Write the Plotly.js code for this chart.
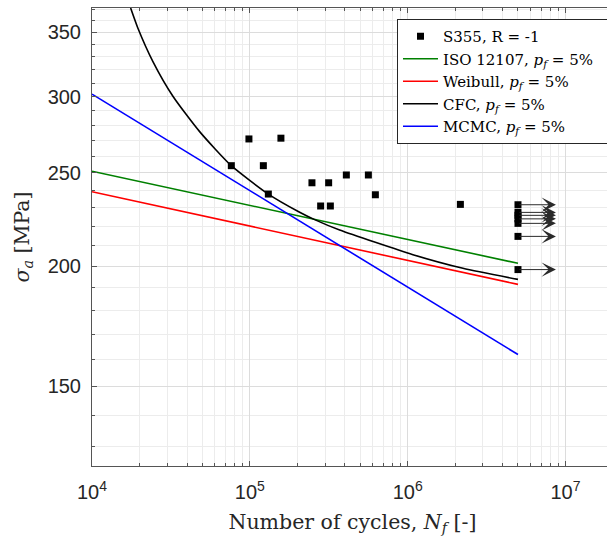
<!DOCTYPE html>
<html><head><meta charset="utf-8">
<script src="https://cdn.plot.ly/plotly-3.0.1.min.js"></script>
<style>html,body{margin:0;padding:0;overflow:hidden;background:#fff}#chart{width:616px;height:544px}</style>
</head><body><div id="chart"></div>
<script>
// Failure data (S355, R = -1)
const failN = [76350, 98700, 121800, 131000, 157400, 247500, 281000, 315800, 323700, 408800, 563700, 624200, 2158000];
const failS = [254.4, 271.2, 254.4, 237.7, 271.7, 244.2, 231.0, 244.2, 231.0, 248.8, 248.8, 237.3, 231.9];
// Run-outs
const runoutN = [5e6, 5e6, 5e6, 5e6, 5e6, 5e6, 5e6];
const runoutS = [231.7, 227.5, 225.9, 224.0, 221.6, 214.8, 198.4];
const runoutArrowEndN = 8.7e6;
// Design curves (p_f = 5%)
const isoN = [1e4, 5e6];
const isoS = [251, 201.4];
const weibullN = [1e4, 5e6];
const weibullS = [239, 191.5];
const mcmcN = [1e4, 5e6];
const mcmcS = [301.9, 161.9];
const cfcN = [17570, 19540, 24320, 32560, 48080, 76350, 131000, 206800, 257400, 370700, 1080000, 2240000, 5000000];
const cfcS = [371, 353.5, 326.4, 300.4, 276, 254.4, 237.7, 227.6, 223.6, 218.1, 205.6, 199.0, 193.8];
// Tick labels
const yMajorTicks = [150, 200, 250, 300, 350];
const yTickText = ['150', '200', '250', '300', '350'];
const yMinorTicks = [130, 140, 160, 170, 180, 190, 210, 220, 230, 240, 260, 270, 280, 290, 310, 320, 330, 340, 360, 370];
const xMajorTicks = [1e4, 1e5, 1e6, 1e7];
const xTickText = ['10<sup>4</sup>', '10<sup>5</sup>', '10<sup>6</sup>', '10<sup>7</sup>'];

const serif = '"DejaVu Serif", "Liberation Serif", serif';
const sans = '"Liberation Sans", Arial, sans-serif';

const xMinor = [];
[4, 5, 6, 7].forEach(d => { for (let k = 2; k <= 9; k++) xMinor.push(k * Math.pow(10, d)); });

const legendSuffix = ', <i>p</i><sub><i>f</i></sub> = 5%';
const traces = [
  {x: failN.concat(runoutN), y: failS.concat(runoutS), mode: 'markers', type: 'scatter',
   name: 'S355, R = -1', marker: {symbol: 'square', size: 7, color: '#000'}},
  {x: isoN, y: isoS, mode: 'lines', name: 'ISO 12107' + legendSuffix + '&nbsp;&nbsp;&nbsp;', line: {color: '#008000', width: 1.6}},
  {x: weibullN, y: weibullS, mode: 'lines', name: 'Weibull' + legendSuffix, line: {color: '#ff0000', width: 1.6}},
  {x: cfcN, y: cfcS, mode: 'lines', name: 'CFC' + legendSuffix, line: {color: '#000', width: 1.6, shape: 'spline', smoothing: 0.6}},
  {x: mcmcN, y: mcmcS, mode: 'lines', name: 'MCMC' + legendSuffix, line: {color: '#0000ff', width: 1.6}}
];

const annotations = runoutS.map((s, i) => ({
  x: Math.log10(runoutArrowEndN), y: Math.log10(s), ax: Math.log10(runoutN[i]), ay: Math.log10(s),
  xref: 'x', yref: 'y', axref: 'x', ayref: 'y', text: '', showarrow: true,
  arrowhead: 3, arrowsize: 2.4, arrowwidth: 1, arrowcolor: '#2a2a2a', standoff: 0, startstandoff: 0
}));

const layout = {
  width: 616, height: 544,
  margin: {l: 92, r: 3, t: 8, b: 78, autoexpand: false},
  paper_bgcolor: '#fff', plot_bgcolor: '#fff',
  showlegend: true,
  legend: {x: 0.5854, y: 0.976, xanchor: 'left', yanchor: 'top', bgcolor: '#fff',
           bordercolor: '#262626', borderwidth: 1, font: {family: serif, size: 15, color: '#000'},
           tracegroupgap: 0, itemwidth: 35},
  xaxis: {type: 'log', range: [4, Math.log10(2e7)], tickmode: 'array', tickvals: xMajorTicks, ticktext: xTickText,
          showline: true, linecolor: '#555', linewidth: 1, mirror: 'ticks',
          ticks: 'inside', ticklen: 5, tickcolor: '#555',
          showgrid: true, gridcolor: '#dcdcdc', gridwidth: 1, zeroline: false,
          tickfont: {family: sans, size: 20, color: '#262626'}, ticklabelstandoff: 8,
          minor: {tickvals: xMinor, showgrid: true, gridcolor: '#ececec', ticks: 'inside', ticklen: 3, tickcolor: '#555'},
          title: {text: 'Number of cycles, <i>N</i><sub><i>f</i></sub> [-]', font: {family: serif, size: 20.5, color: '#262626'}, standoff: 12}},
  yaxis: {type: 'log', range: [Math.log10(124), Math.log10(371)],
          tickmode: 'array', tickvals: yMajorTicks, ticktext: yTickText,
          showline: true, linecolor: '#555', linewidth: 1, mirror: 'ticks',
          ticks: 'inside', ticklen: 5, tickcolor: '#555',
          showgrid: true, gridcolor: '#dcdcdc', gridwidth: 1, zeroline: false,
          tickfont: {family: sans, size: 20, color: '#262626'}, ticklabelstandoff: 6,
          minor: {tickvals: yMinorTicks, showgrid: true, gridcolor: '#ececec', ticks: 'inside', ticklen: 3, tickcolor: '#555'},
          title: {text: '<i>σ</i><sub><i>a</i></sub> [MPa]', font: {family: serif, size: 20.5, color: '#262626'}, standoff: 12}},
  annotations: annotations
};

Plotly.newPlot('chart', traces, layout, {displayModeBar: false, staticPlot: true});
</script>
</body></html>
